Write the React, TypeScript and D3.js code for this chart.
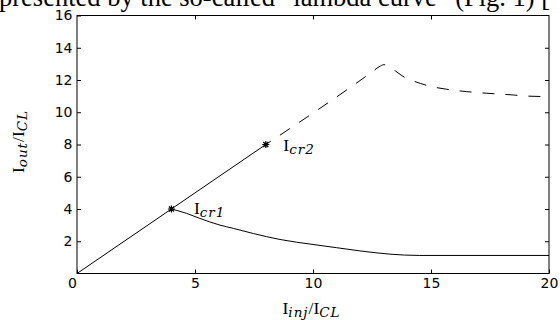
import React, { useRef, useEffect } from 'react';
import * as d3 from 'd3';

// values
const xTicks = [0, 5, 10, 15, 20];
const yTicks = [2, 4, 6, 8, 10, 12, 14, 16];

// stable branch: I_out = I_inj up to the second critical point
const linearX = [0, 4, 8];
const linearY = [0, 4, 8];

// upper (dashed) branch past I_cr2
const upperX = [8, 12.5, 12.8, 13, 13.2, 13.5, 13.9, 14.25, 15, 15.65, 16.5, 17.35, 18.5, 19.1, 20];
const upperY = [8, 12.5, 12.82, 12.95, 12.85, 12.55, 12.15, 11.94, 11.6, 11.43, 11.28, 11.18, 11.07, 11.0, 10.97];

// lower (solid) branch past I_cr1
const lowerX = [4, 4.64, 5.2, 6.06, 6.62, 7.47, 8.6, 10, 11, 12, 13.26, 14.5, 20];
const lowerY = [4, 3.73, 3.42, 3.0, 2.8, 2.48, 2.11, 1.8, 1.6, 1.4, 1.2, 1.12, 1.12];

// critical points
const critX = [4, 8];
const critY = [4, 8];
const critSub = ['cr1', 'cr2'];

const title = 'presented by the so-called \u201clambda curve\u201d (Fig. 1) [';

function LambdaChart() {
  const svgRef = useRef<SVGSVGElement>(null);

  useEffect(() => {
    const svg = d3.select(svgRef.current);
    svg.selectAll('*').remove();

    const W = 560, H = 320;
    const left = 77, right = 549, top = 15.5, bottom = 273.5;

    svg.attr('width', W).attr('height', H);

    const x = d3.scaleLinear().domain([0, 20]).range([left, right]);
    const y = d3.scaleLinear().domain([0, 16]).range([bottom, top]);

    const serif = '"Liberation Serif", "Times New Roman", serif';
    const sans = '"DejaVu Sans", sans-serif';
    const italic = '"DejaVu Serif", serif';

    // cropped text of the paper above the figure
    svg.append('text')
      .attr('x', -1)
      .attr('y', 5.5)
      .attr('font-family', serif)
      .attr('font-size', 26.5)
      .attr('fill', '#000')
      .text(title);

    // axes (ticks point inward)
    const bottomAxis = svg.append('g')
      .attr('transform', `translate(0,${bottom})`)
      .call(d3.axisBottom(x).tickValues(xTicks).tickSizeInner(-4).tickSizeOuter(0).tickPadding(5).tickFormat(d3.format('d')));
    bottomAxis.selectAll('text').filter((d: any) => d === 0).attr('dx', -5);

    svg.append('g')
      .attr('transform', `translate(0,${top})`)
      .call(d3.axisTop(x).tickValues(xTicks.slice(1, -1)).tickSizeInner(-4).tickSizeOuter(0).tickFormat(() => ''));

    svg.append('g')
      .attr('transform', `translate(${left},0)`)
      .call(d3.axisLeft(y).tickValues(yTicks).tickSizeInner(-4).tickSizeOuter(0).tickPadding(4.5).tickFormat(d3.format('d')));

    svg.append('g')
      .attr('transform', `translate(${right},0)`)
      .call(d3.axisRight(y).tickValues(yTicks.slice(0, -1)).tickSizeInner(-4).tickSizeOuter(0).tickFormat(() => ''));

    svg.selectAll('.domain').remove();
    svg.selectAll('.tick text')
      .attr('font-family', sans)
      .attr('font-size', 14)
      .attr('fill', '#000');
    svg.selectAll('.tick line').attr('stroke', '#000');

    // frame
    svg.append('rect')
      .attr('x', left)
      .attr('y', top)
      .attr('width', right - left)
      .attr('height', bottom - top)
      .attr('fill', 'none')
      .attr('stroke', '#000')
      .attr('stroke-width', 1);

    const line = d3.line<[number, number]>()
      .x(d => x(d[0]))
      .y(d => y(d[1]));

    const smooth = d3.line<[number, number]>()
      .x(d => x(d[0]))
      .y(d => y(d[1]))
      .curve(d3.curveMonotoneX);

    svg.append('path')
      .datum(linearX.map((v, i) => [v, linearY[i]] as [number, number]))
      .attr('d', line)
      .attr('fill', 'none')
      .attr('stroke', '#000')
      .attr('stroke-width', 1);

    svg.append('path')
      .datum(upperX.map((v, i) => [v, upperY[i]] as [number, number]))
      .attr('d', smooth)
      .attr('fill', 'none')
      .attr('stroke', '#000')
      .attr('stroke-width', 1)
      .attr('stroke-dasharray', '12,11')
      .attr('stroke-dashoffset', 6);

    svg.append('path')
      .datum(lowerX.map((v, i) => [v, lowerY[i]] as [number, number]))
      .attr('d', smooth)
      .attr('fill', 'none')
      .attr('stroke', '#000')
      .attr('stroke-width', 1);

    // asterisk markers
    const star = (cx: number, cy: number) => {
      const a = 3.5, b = 2.5;
      return `M${cx - a},${cy}L${cx + a},${cy}M${cx},${cy - a}L${cx},${cy + a}` +
        `M${cx - b},${cy - b}L${cx + b},${cy + b}M${cx - b},${cy + b}L${cx + b},${cy - b}`;
    };
    svg.selectAll('.crit')
      .data(critX)
      .enter()
      .append('path')
      .attr('class', 'crit')
      .attr('d', (d, i) => star(x(d), y(critY[i])))
      .attr('stroke', '#000')
      .attr('stroke-width', 1.2)
      .attr('fill', 'none');

    // I + italic subscript
    const label = (g: d3.Selection<SVGTextElement, unknown, null, undefined>, parts: [string, boolean][]) => {
      parts.forEach(([t, sub]) => {
        g.append('tspan')
          .attr('font-family', sub ? italic : serif)
          .attr('font-style', sub ? 'italic' : 'normal')
          .attr('font-size', sub ? 13.5 : 17.5)
          .attr('letter-spacing', sub ? 1 : 0)
          .attr('dy', sub ? 3 : -3)
          .text(t);
      });
    };

    const labelDx = [22.5, 17.5];
    const labelDy = [4.5, 6.2];
    critX.forEach((d, i) => {
      const t = svg.append('text')
        .attr('x', x(d) + labelDx[i])
        .attr('y', y(critY[i]) + labelDy[i] + 3)
        .attr('fill', '#000');
      label(t as any, [['I', false], [critSub[i], true]]);
    });

    // axis titles
    const xl = svg.append('text')
      .attr('x', (left + right) / 2 - 1.5)
      .attr('y', 317)
      .attr('text-anchor', 'middle')
      .attr('fill', '#000');
    label(xl as any, [['I', false], ['inj', true], ['/I', false], ['CL', true]]);

    const yl = svg.append('text')
      .attr('transform', `translate(27,${(top + bottom) / 2 - 3}) rotate(-90)`)
      .attr('text-anchor', 'middle')
      .attr('fill', '#000');
    label(yl as any, [['I', false], ['out', true], ['/I', false], ['CL', true]]);
  }, []);

  return <svg ref={svgRef} style={{ display: 'block' }}></svg>;
}

export default function App() {
  return (
    <div>
      <style>{'body{margin:0;background:#fff;}'}</style>
      <LambdaChart />
    </div>
  );
}
